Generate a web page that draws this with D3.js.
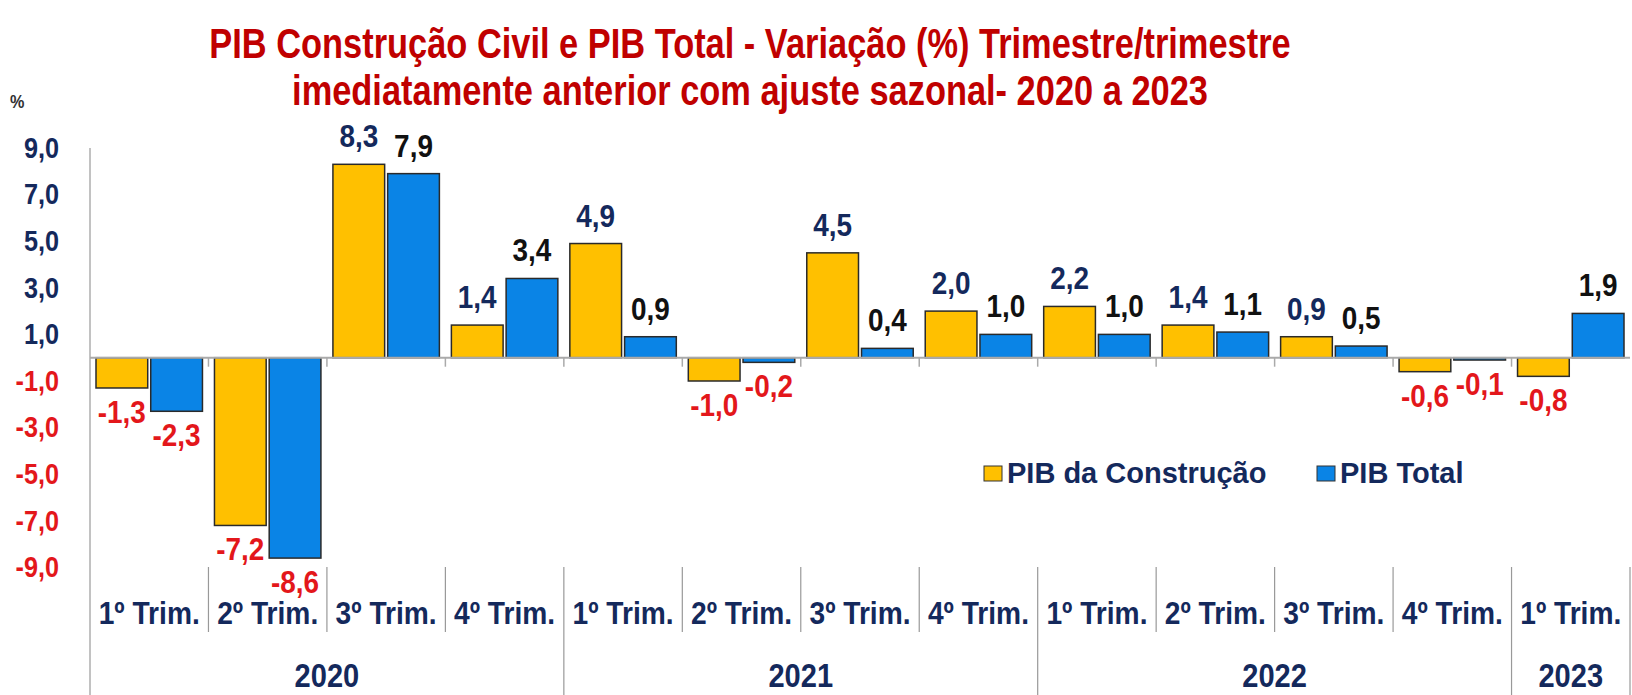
<!DOCTYPE html>
<html>
<head>
<meta charset="utf-8">
<script src="https://cdn.jsdelivr.net/npm/d3@7"></script>
<style>
  body { margin: 0; background: #fff; }
  svg text { font-family: "Liberation Sans", Arial, sans-serif; font-weight: bold; }
</style>
</head>
<body>
<svg id="chart" width="1632" height="695"></svg>
<script>
// dados
var quarters = ["1º Trim.", "2º Trim.", "3º Trim.", "4º Trim.", "1º Trim.", "2º Trim.", "3º Trim.", "4º Trim.", "1º Trim.", "2º Trim.", "3º Trim.", "4º Trim.", "1º Trim."];
var years = ["2020", "2021", "2022", "2023"];
var quartersPerYear = [4, 4, 4, 1];
var construcao = [-1.3, -7.2, 8.3, 1.4, 4.9, -1.0, 4.5, 2.0, 2.2, 1.4, 0.9, -0.6, -0.8];
var pibTotal = [-2.3, -8.6, 7.9, 3.4, 0.9, -0.2, 0.4, 1.0, 1.0, 1.1, 0.5, -0.1, 1.9];
var yTicks = [9, 7, 5, 3, 1, -1, -3, -5, -7, -9];
var seriesNames = ["PIB da Construção", "PIB Total"];
var titleLines = ["PIB Construção Civil e PIB Total - Variação (%) Trimestre/trimestre",
                  "imediatamente anterior com ajuste sazonal- 2020 a 2023"];

// cores
var yellow = "#FFC000", blue = "#0A84E6";
var navy = "#14295C", red = "#E3171B", darkRed = "#C00000";

var svg = d3.select("#chart");
var plotLeft = 90, plotRight = 1630, plotTop = 148, plotBottom = 567.4;

var ptBR = d3.formatLocale({decimal: ",", thousands: ".", grouping: [3], currency: ["R$", ""], minus: "-"});
var fmt = ptBR.format(".1f");

// fonte "narrow": comprime o texto na horizontal
function narrow(sel, k) {
  sel.each(function() {
    var w = this.getComputedTextLength();
    d3.select(this).attr("textLength", w * (k || 0.82)).attr("lengthAdjust", "spacingAndGlyphs");
  });
}

// escalas
var x0 = d3.scaleBand().domain(d3.range(quarters.length)).range([plotLeft, plotRight]);
var x1 = d3.scaleBand().domain([0, 1]).range([6, x0.bandwidth() - 6]).paddingInner(0.055);
var y = d3.scaleLinear().domain([-9, 9]).range([plotBottom, plotTop]);

// título
svg.append("g").selectAll("text")
  .data(titleLines).enter().append("text")
  .attr("x", 750)
  .attr("y", function(d, i) { return 58 + i * 47; })
  .attr("text-anchor", "middle")
  .attr("fill", darkRed)
  .style("font-size", "43px")
  .text(function(d) { return d; })
  .call(narrow, 0.8);

svg.append("text")
  .attr("x", 10).attr("y", 108)
  .attr("fill", "#333")
  .style("font-size", "18px")
  .text("%")
  .call(narrow, 0.9);

// eixo Y (só rótulos)
var yAxis = svg.append("g")
  .attr("transform", "translate(59,0)")
  .call(d3.axisLeft(y).tickValues(yTicks).tickSize(0).tickPadding(0).tickFormat(fmt));
yAxis.select(".domain").remove();
yAxis.attr("font-family", null).attr("font-size", null);
yAxis.selectAll("text")
  .attr("fill", function(d) { return d < 0 ? red : navy; })
  .style("font-size", "29px")
  .call(narrow, 0.87);

// linha vertical do eixo
svg.append("line")
  .attr("x1", plotLeft).attr("x2", plotLeft)
  .attr("y1", plotTop).attr("y2", 695)
  .attr("stroke", "#999").attr("stroke-width", 1.2);

// barras
var series = [construcao, pibTotal];
var colors = [yellow, blue];
series.forEach(function(vals, s) {
  svg.append("g").selectAll("rect")
    .data(vals).enter().append("rect")
    .attr("x", function(d, i) { return x0(i) + x1(s); })
    .attr("width", x1.bandwidth())
    .attr("y", function(d) { return y(Math.max(0, d)); })
    .attr("height", function(d) { return Math.abs(y(d) - y(0)); })
    .attr("fill", colors[s])
    .attr("stroke", "#2a2a2a")
    .attr("stroke-width", 1.5);
});

// linha do zero e marcas
svg.append("line")
  .attr("x1", plotLeft).attr("x2", plotRight)
  .attr("y1", y(0)).attr("y2", y(0))
  .attr("stroke", "#aaa").attr("stroke-width", 2);
svg.append("g").selectAll("line")
  .data(d3.range(1, quarters.length)).enter().append("line")
  .attr("x1", function(i) { return x0(i); }).attr("x2", function(i) { return x0(i); })
  .attr("y1", y(0)).attr("y2", y(0) + 9)
  .attr("stroke", "#aaa").attr("stroke-width", 1.5);

// rótulos de valor
series.forEach(function(vals, s) {
  svg.append("g").selectAll("text")
    .data(vals).enter().append("text")
    .attr("x", function(d, i) { return x0(i) + x1(s) + x1.bandwidth() / 2; })
    .attr("y", function(d) { return d >= 0 ? y(d) - 17 : y(d) + 35; })
    .attr("text-anchor", "middle")
    .attr("fill", function(d) { return d < 0 ? red : (s === 0 ? navy : "#111"); })
    .style("font-size", "31px")
    .text(function(d) { return fmt(d); })
    .call(narrow, 0.9);
});

// eixo X: trimestres
svg.append("g").selectAll("text")
  .data(quarters).enter().append("text")
  .attr("x", function(d, i) { return x0(i) + x0.bandwidth() / 2; })
  .attr("y", 624)
  .attr("text-anchor", "middle")
  .attr("fill", navy)
  .style("font-size", "32px")
  .text(function(d) { return d; })
  .call(narrow, 0.88);

// separadores
var yearStarts = [];
var acc = 0;
quartersPerYear.forEach(function(n) { yearStarts.push(acc); acc += n; });
svg.append("g").selectAll("line")
  .data(d3.range(1, quarters.length + 1)).enter().append("line")
  .attr("x1", function(i) { return i < quarters.length ? x0(i) : plotRight; })
  .attr("x2", function(i) { return i < quarters.length ? x0(i) : plotRight; })
  .attr("y1", 567)
  .attr("y2", function(i) { return yearStarts.indexOf(i) >= 0 || i === quarters.length ? 695 : 632; })
  .attr("stroke", "#999").attr("stroke-width", 1.2);

// eixo X: anos
svg.append("g").selectAll("text")
  .data(years).enter().append("text")
  .attr("x", function(d, i) {
    var a = x0(yearStarts[i]);
    var b = yearStarts[i] + quartersPerYear[i] < quarters.length ? x0(yearStarts[i] + quartersPerYear[i]) : plotRight;
    return (a + b) / 2;
  })
  .attr("y", 687)
  .attr("text-anchor", "middle")
  .attr("fill", navy)
  .style("font-size", "33px")
  .text(function(d) { return d; })
  .call(narrow, 0.88);

// legenda
var legendX = [984, 1317];
var legend = svg.append("g").selectAll("g")
  .data(seriesNames).enter().append("g")
  .attr("transform", function(d, i) { return "translate(" + legendX[i] + ",466)"; });
legend.append("rect")
  .attr("width", 18).attr("height", 15)
  .attr("fill", function(d, i) { return colors[i]; })
  .attr("stroke", "#333").attr("stroke-width", 1);
legend.append("text")
  .attr("x", 23).attr("y", 17)
  .attr("fill", navy)
  .style("font-size", "29px")
  .text(function(d) { return d; });
</script>
</body>
</html>
